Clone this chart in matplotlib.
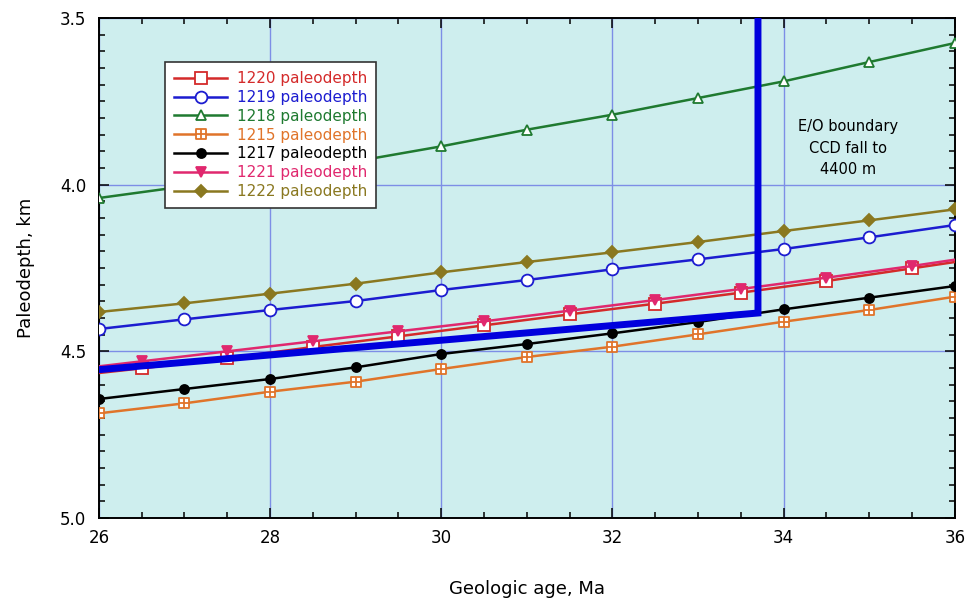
import numpy as np
from matplotlib import pyplot as plt
from matplotlib.path import Path
from matplotlib.ticker import MultipleLocator, FormatStrFormatter

plt.rcParams['font.family'] = ['DejaVu Sans']

# ages (Ma) for whole-number sites and half-step sites
age = [26, 27, 28, 29, 30, 31, 32, 33, 34, 35, 36]
age_half = [26, 26.5, 27.5, 28.5, 29.5, 30.5, 31.5, 32.5, 33.5, 34.5, 35.5, 36]

depth_1220 = [4.565, 4.551, 4.521, 4.487, 4.455, 4.422, 4.389, 4.357, 4.324, 4.289, 4.251, 4.232]
depth_1219 = [4.433, 4.404, 4.376, 4.349, 4.316, 4.286, 4.254, 4.224, 4.193, 4.158, 4.121]
depth_1218 = [4.040, 4.005, 3.970, 3.930, 3.885, 3.835, 3.790, 3.740, 3.690, 3.632, 3.575]
depth_1215 = [4.686, 4.656, 4.621, 4.591, 4.553, 4.517, 4.486, 4.449, 4.411, 4.376, 4.336]
depth_1217 = [4.643, 4.613, 4.583, 4.548, 4.508, 4.478, 4.446, 4.412, 4.374, 4.339, 4.304]
depth_1221 = [4.545, 4.530, 4.500, 4.470, 4.440, 4.410, 4.378, 4.346, 4.313, 4.279, 4.244, 4.225]
depth_1222 = [4.382, 4.356, 4.327, 4.297, 4.263, 4.232, 4.203, 4.172, 4.139, 4.107, 4.074]

# CCD path: gradual shoaling then E/O boundary drop
ccd_age = [26, 33.7, 33.7]
ccd_depth = [4.555, 4.385, 3.5]

# square with a cross inside (1215 marker)
box_plus = Path(
    [(-1, -1), (1, -1), (1, 1), (-1, 1), (-1, -1),
     (-1, 0), (1, 0), (0, -1), (0, 1)],
    [Path.MOVETO, Path.LINETO, Path.LINETO, Path.LINETO, Path.CLOSEPOLY,
     Path.MOVETO, Path.LINETO, Path.MOVETO, Path.LINETO])

fig = plt.figure(figsize=(9.69, 6.05), dpi=100)
ax = fig.add_axes([0.102, 0.1438, 0.8834, 0.8264])
ax.set_facecolor('#ceeeee')

mid = slice(1, -1)
series = [
    ('1220 paleodepth', age_half, depth_1220, '#d42a2a', 's', 'white', 8.5, mid),
    ('1219 paleodepth', age, depth_1219, '#1c1cd0', 'o', 'white', 8.5, None),
    ('1218 paleodepth', age, depth_1218, '#1f7a30', '^', 'white', 7.5, None),
    ('1215 paleodepth', age, depth_1215, '#e0742a', box_plus, 'white', 6.5, None),
    ('1217 paleodepth', age, depth_1217, 'black', 'o', 'black', 6.5, None),
    ('1221 paleodepth', age_half, depth_1221, '#e0286e', 'v', '#e0286e', 7.5, mid),
    ('1222 paleodepth', age, depth_1222, '#8a7820', 'D', '#8a7820', 6.5, None),
]

handles = []
for label, x, y, color, marker, face, size, every in series:
    ln, = ax.plot(x, y, color=color, lw=1.8, marker=marker, markersize=size,
                  markerfacecolor=face, markeredgecolor=color, markeredgewidth=1.3,
                  markevery=every, label=label, zorder=3)
    handles.append(ln)

ax.plot(ccd_age, ccd_depth, color='#0000dd', lw=5, solid_joinstyle='miter', zorder=4)

ax.set_xlim(26, 36)
ax.set_ylim(5.0, 3.5)
ax.xaxis.set_major_locator(MultipleLocator(2))
ax.xaxis.set_minor_locator(MultipleLocator(0.5))
ax.yaxis.set_major_locator(MultipleLocator(0.5))
ax.yaxis.set_minor_locator(MultipleLocator(0.05))
ax.yaxis.set_major_formatter(FormatStrFormatter('%.1f'))
ax.tick_params(which='both', direction='in', top=True, right=True, width=1.1)
ax.tick_params(which='major', length=7, labelsize=12)
ax.tick_params(which='minor', length=4)
ax.tick_params(axis='y', pad=9)
ax.tick_params(axis='x', pad=8)
ax.grid(True, which='major', color='#7d8ee6', lw=1, zorder=1)
ax.set_axisbelow(True)
for s in ax.spines.values():
    s.set_linewidth(1.4)

ax.set_xlabel('Geologic age, Ma', fontsize=13, labelpad=24)
ax.set_ylabel('Paleodepth, km', fontsize=13, labelpad=18)

leg = ax.legend(handles=handles, loc='upper left', bbox_to_anchor=(0.077, 0.912),
                borderaxespad=0, fontsize=11, handlelength=3.5, handletextpad=0.6,
                labelspacing=0.25, frameon=True, fancybox=False, edgecolor='#333333',
                framealpha=1, borderpad=0.6)
leg.get_frame().set_linewidth(1.2)
for txt, (_, _, _, color, *_rest) in zip(leg.get_texts(), series):
    txt.set_color(color)

ax.text(34.75, 3.89, 'E/O boundary\nCCD fall to\n4400 m', ha='center', va='center',
        fontsize=10.5, linespacing=1.55, zorder=5)

plt.savefig('out.png', dpi=100)
